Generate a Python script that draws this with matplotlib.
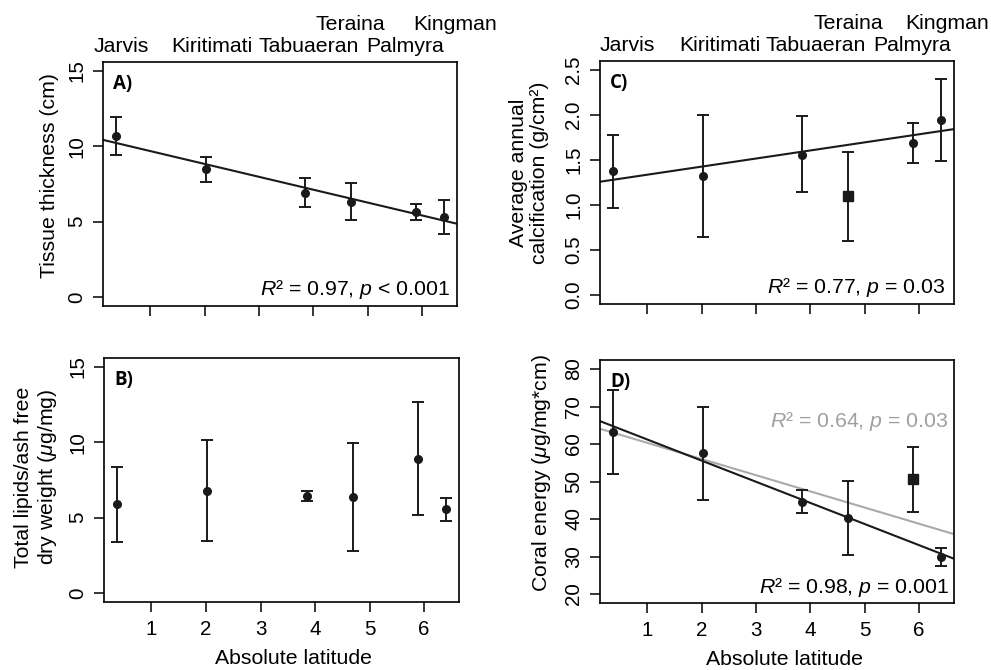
import matplotlib
matplotlib.use("Agg")
import matplotlib.pyplot as plt

plt.rcParams['font.family'] = ['Liberation Sans', 'DejaVu Sans']
plt.rcParams['mathtext.fontset'] = 'custom'
plt.rcParams['mathtext.rm'] = 'Liberation Sans'
plt.rcParams['mathtext.it'] = 'Liberation Sans:italic'
plt.rcParams['mathtext.bf'] = 'Liberation Sans:bold'

# sites and absolute latitude
sites = ['Jarvis', 'Kiritimati', 'Tabuaeran', 'Teraina', 'Palmyra', 'Kingman']
lat = [0.37, 2.02, 3.85, 4.70, 5.88, 6.40]

# A) tissue thickness (cm)
tissue_mean = [10.68, 8.47, 6.91, 6.33, 5.64, 5.33]
tissue_hi = [11.95, 9.29, 7.89, 7.56, 6.17, 6.44]
tissue_lo = [9.45, 7.64, 5.95, 5.10, 5.10, 4.21]
tissue_fit = (10.54, -0.855)  # intercept, slope

# B) total lipids / AFDW
lipid_mean = [5.88, 6.75, 6.42, 6.37, 8.89, 5.55]
lipid_hi = [8.38, 10.13, 6.75, 9.93, 12.65, 6.31]
lipid_lo = [3.41, 3.45, 6.08, 2.79, 5.18, 4.80]

# C) average annual calcification
calc_mean = [1.374, 1.322, 1.559, 1.096, 1.689, 1.944]
calc_hi = [1.778, 2.000, 1.985, 1.589, 1.907, 2.396]
calc_lo = [0.967, 0.641, 1.141, 0.604, 1.470, 1.493]
calc_square = 'Teraina'
calc_fit = (1.247, 0.0898)

# D) coral energy
energy_mean = [63.1, 57.6, 44.65, 40.2, 50.6, 29.9]
energy_hi = [74.3, 70.0, 47.7, 50.2, 59.1, 32.3]
energy_lo = [52.0, 45.2, 41.7, 30.3, 41.9, 27.6]
energy_square = 'Palmyra'
energy_fit = (66.83, -5.636)
energy_fit_all = (64.62, -4.315)

# layout (pixels on a 991x670 canvas)
W, H = 991, 670
FS = 15.3


def make_ax(fig, l, r, t, b):
    return fig.add_axes([l / W, 1 - b / H, (r - l) / W, (b - t) / H])


def style(ax, yticks, yfmt, ylim, show_x):
    x0 = min(lat); x1 = max(lat); pad = 0.04 * (x1 - x0)
    ax.set_xlim(x0 - pad, x1 + pad)
    ax.set_ylim(*ylim)
    ax.set_xticks([1, 2, 3, 4, 5, 6])
    ax.set_yticks(yticks)
    ax.set_yticklabels([yfmt.format(v) for v in yticks], rotation=90,
                       va='center', ha='right')
    if not show_x:
        ax.set_xticklabels([])
    ax.tick_params(direction='out', length=7.2, width=1.1, labelsize=FS - 0.5,
                   pad=5)
    ax.tick_params(axis='x', pad=6)
    for s in ax.spines.values():
        s.set_linewidth(1.2)


def draw_points(ax, mean, lo, hi, square=None):
    for x, m, l, h, name in zip(lat, mean, lo, hi, sites):
        mk = 's' if name == square else 'o'
        ms = 6.5 if mk == 's' else 5.5
        ax.errorbar([x], [m], yerr=[[m - l], [h - m]], fmt=mk, color='#1a1a1a',
                    ms=ms, elinewidth=1.4, capsize=4.5, capthick=1.4, zorder=3)


def site_labels(ax, xs):
    tr = ax.get_xaxis_transform()
    top_row = ['Teraina', 'Kingman']
    for name, x in zip(sites, xs):
        dy = 23 if name in top_row else 7
        ax.annotate(name, xy=(x, 1), xycoords=tr, xytext=(0, dy),
                    textcoords='offset points', ha='center', va='baseline',
                    fontsize=FS, annotation_clip=False)


def panel_letter(ax, txt):
    ax.text(0.028, 0.95, txt, transform=ax.transAxes, ha='left', va='top',
            fontsize=13.5, fontweight='bold', family=['Open Sans', 'DejaVu Sans'])


fig = plt.figure(figsize=(W / 100, H / 100), dpi=100)

axA = make_ax(fig, 103, 457, 62, 306)
axB = make_ax(fig, 104, 459, 358, 602)
axC = make_ax(fig, 600, 954, 61, 304)
axD = make_ax(fig, 600, 954, 360, 603)

# A
style(axA, [0, 5, 10, 15], '{:g}', (-0.6, 15.6), False)
draw_points(axA, tissue_mean, tissue_lo, tissue_hi)
axA.axline((0, tissue_fit[0]), slope=tissue_fit[1], color='#1a1a1a', lw=1.5)
axA.text(0.98, 0.045, '$R$\u00b2 = 0.97, $p$ < 0.001', transform=axA.transAxes,
         ha='right', va='baseline', fontsize=FS)
axA.text(-0.15, 0.533, 'Tissue thickness (cm)', transform=axA.transAxes,
         rotation=90, ha='center', va='center', fontsize=FS)
panel_letter(axA, 'A)')
site_labels(axA, [0.46, 2.14, 3.91, 4.67, 5.69, 6.60])

# B
style(axB, [0, 5, 10, 15], '{:g}', (-0.6, 15.6), True)
draw_points(axB, lipid_mean, lipid_lo, lipid_hi)
axB.text(-0.19, 0.512, 'Total lipids/ash free\ndry weight ($\\mu$g/mg)',
         transform=axB.transAxes, rotation=90, ha='center', va='center',
         fontsize=FS, linespacing=1.15)
axB.text(0.535, -0.255, 'Absolute latitude', transform=axB.transAxes,
         ha='center', va='baseline', fontsize=FS)
panel_letter(axB, 'B)')

# C
style(axC, [0, 0.5, 1.0, 1.5, 2.0, 2.5], '{:.1f}', (-0.1, 2.6), False)
draw_points(axC, calc_mean, calc_lo, calc_hi, square=calc_square)
axC.axline((0, calc_fit[0]), slope=calc_fit[1], color='#1a1a1a', lw=1.5)
axC.text(0.975, 0.045, '$R$\u00b2 = 0.77, $p$ = 0.03', transform=axC.transAxes,
         ha='right', va='baseline', fontsize=FS)
axC.text(-0.2, 0.541, 'Average annual\ncalcification (g/cm\u00b2)',
         transform=axC.transAxes, rotation=90, ha='center', va='center',
         fontsize=FS, linespacing=1.15)
panel_letter(axC, 'C)')
site_labels(axC, [0.64, 2.33, 4.09, 4.70, 5.87, 6.52])

# D
style(axD, [20, 30, 40, 50, 60, 70, 80], '{:g}', (17.6, 82.4), True)
axD.axline((0, energy_fit_all[0]), slope=energy_fit_all[1], color='#aaaaaa', lw=1.5)
axD.axline((0, energy_fit[0]), slope=energy_fit[1], color='#1a1a1a', lw=1.5)
draw_points(axD, energy_mean, energy_lo, energy_hi, square=energy_square)
axD.text(0.985, 0.724, '$R$\u00b2 = 0.64, $p$ = 0.03', transform=axD.transAxes,
         ha='right', va='baseline', fontsize=FS, color='#a0a0a0')
axD.text(0.985, 0.04, '$R$\u00b2 = 0.98, $p$ = 0.001', transform=axD.transAxes,
         ha='right', va='baseline', fontsize=FS)
axD.text(-0.165, 0.536, 'Coral energy ($\\mu$g/mg*cm)', transform=axD.transAxes,
         rotation=90, ha='center', va='center', fontsize=FS)
axD.text(0.52, -0.255, 'Absolute latitude', transform=axD.transAxes,
         ha='center', va='baseline', fontsize=FS)
panel_letter(axD, 'D)')

fig.savefig('out.png', dpi=100)
